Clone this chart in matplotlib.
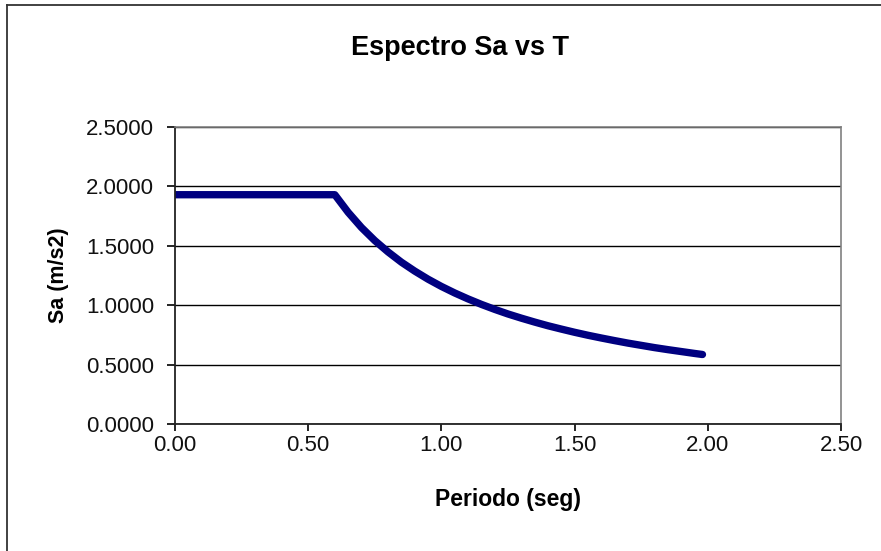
import matplotlib.pyplot as plt
from matplotlib.lines import Line2D

# Periodo (seg) and spectral acceleration Sa (m/s2)
periodo = [0.00, 0.10, 0.20, 0.30, 0.40, 0.50, 0.60,
           0.65, 0.70, 0.75, 0.80, 0.85, 0.90, 0.95, 1.00,
           1.05, 1.10, 1.15, 1.20, 1.25, 1.30, 1.35, 1.40,
           1.45, 1.50, 1.55, 1.60, 1.65, 1.70, 1.75, 1.80,
           1.85, 1.90, 1.95, 1.98]
sa = [1.930, 1.930, 1.930, 1.930, 1.930, 1.930, 1.930,
      1.782, 1.654, 1.544, 1.448, 1.362, 1.287, 1.219, 1.158,
      1.103, 1.053, 1.007, 0.965, 0.926, 0.891, 0.858, 0.827,
      0.799, 0.772, 0.747, 0.724, 0.702, 0.681, 0.662, 0.643,
      0.626, 0.610, 0.594, 0.585]

x_ticks = [0.0, 0.5, 1.0, 1.5, 2.0, 2.5]
y_ticks = [0.0, 0.5, 1.0, 1.5, 2.0, 2.5]

plt.rcParams['font.family'] = ['Liberation Sans', 'DejaVu Sans']

fig = plt.figure(figsize=(8.81, 5.51), dpi=100)
ax = fig.add_axes([0.1986, 0.2305, 0.7560, 0.5390])

ax.plot(periodo, sa, color='#000080', linewidth=5.3, solid_capstyle='round',
        solid_joinstyle='round')

ax.set_xlim(0, 2.5)
ax.set_ylim(0, 2.5)
ax.set_xticks(x_ticks)
ax.set_yticks(y_ticks)
ax.set_xticklabels([f'{v:.2f}' for v in x_ticks])
ax.set_yticklabels([f'{v:.4f}' for v in y_ticks])
ax.tick_params(axis='both', labelsize=16, direction='out', length=5,
               width=1.2, color='black', labelcolor='#111111')
ax.tick_params(axis='x', pad=3)
ax.tick_params(axis='y', length=6, pad=9)

ax.grid(axis='y', color='black', linewidth=1.0)
ax.set_axisbelow(True)
for side in ['top', 'right']:
    ax.spines[side].set_color('#808080')
    ax.spines[side].set_linewidth(1.2)
for side in ['left', 'bottom']:
    ax.spines[side].set_color('#222222')
    ax.spines[side].set_linewidth(1.3)

fig.text(0.522, 0.913, 'Espectro Sa vs T', ha='center', va='center',
         fontsize=19.5, fontweight='bold')
fig.text(0.577, 0.093, 'Periodo (seg)', ha='center', va='center',
         fontsize=16.5, fontweight='bold')
fig.text(0.066, 0.500, 'Sa (m/s2)', ha='center', va='center', rotation=90,
         fontsize=15.5, fontweight='bold')

# outer chart border
fig.add_artist(Line2D([0.008, 0.008], [0.0, 0.991], transform=fig.transFigure,
                      color='#333333', linewidth=1.3))
fig.add_artist(Line2D([0.008, 1.0], [0.991, 0.991], transform=fig.transFigure,
                      color='#333333', linewidth=1.3))

fig.savefig('out.png', dpi=100)
